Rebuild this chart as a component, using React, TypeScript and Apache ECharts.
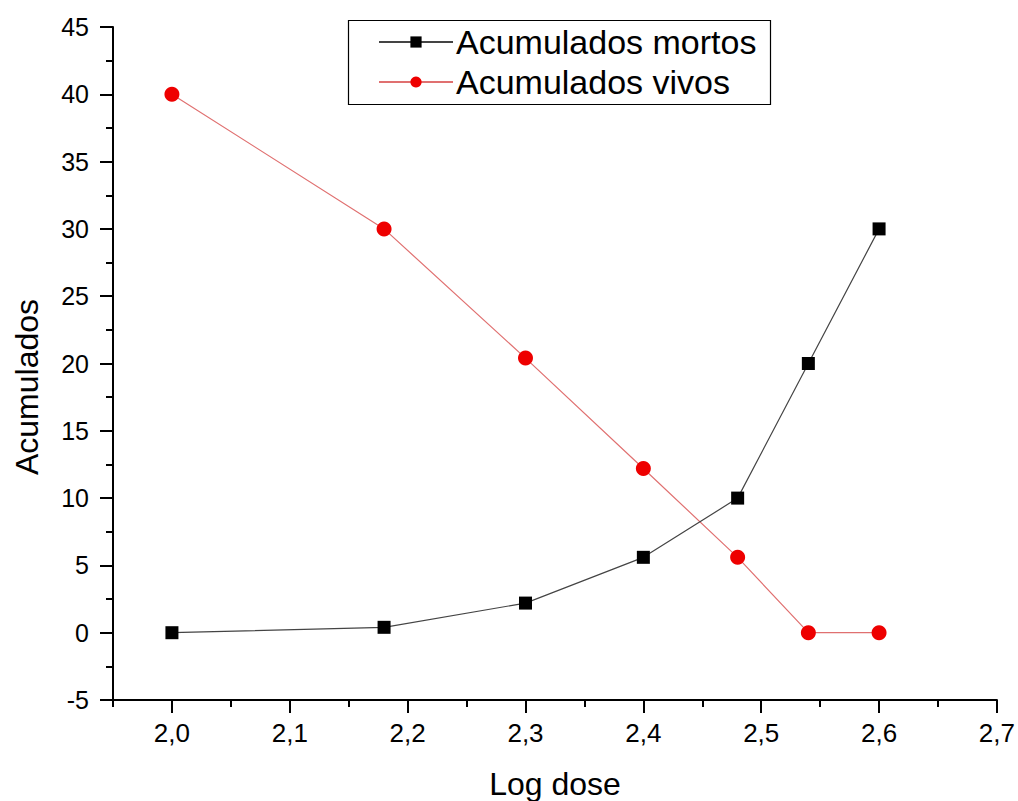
import React, { useEffect, useRef } from "react";
import * as echarts from "echarts";

const logDose = [2.0, 2.18, 2.3, 2.4, 2.48, 2.54, 2.6];
const mortos = [0, 0.4, 2.2, 5.6, 10, 20, 30];
const vivos = [40, 30, 20.4, 12.2, 5.6, 0, 0];
const xMajorTicks = [2.0, 2.1, 2.2, 2.3, 2.4, 2.5, 2.6, 2.7];
const xMinorTicks = [1.95, 2.05, 2.15, 2.25, 2.35, 2.45, 2.55, 2.65];
const seriesNames = ["Acumulados mortos", "Acumulados vivos"];
const xName = "Log dose";
const yName = "Acumulados";

const FONT = "'Liberation Sans', Arial, sans-serif";

export default function App() {
  const ref = useRef<HTMLDivElement>(null);
  useEffect(() => {
    if (!ref.current) return;
    const chart = echarts.init(ref.current, undefined, { renderer: "svg" });
    const axisLine = { show: true, onZero: false, lineStyle: { color: "#000", width: 2 } };
    chart.setOption({
      animation: false,
      backgroundColor: "#fff",
      textStyle: { fontFamily: FONT },
      grid: { left: 113, right: 21, top: 27, bottom: 101, containLabel: false },
      legend: {
        orient: "vertical",
        left: 378,
        top: 25,
        itemWidth: 74,
        itemHeight: 14,
        itemGap: 6,
        padding: 0,
        textStyle: { fontSize: 34, color: "#000", fontFamily: FONT, lineHeight: 34, padding: [0, 0, 0, -2] },
        data: seriesNames,
      },
      xAxis: [
        {
          type: "value",
          position: "bottom",
          min: 1.95,
          max: 2.7,
          axisLine,
          splitLine: { show: false },
          axisTick: { show: true, inside: false, length: 13, lineStyle: { color: "#000", width: 2 }, customValues: xMajorTicks },
          axisLabel: {
            show: true,
            customValues: xMajorTicks,
            margin: 20,
            fontSize: 26,
            color: "#000",
            fontFamily: FONT,
            formatter: (v: number) => v.toFixed(1).replace(".", ","),
          },
        },
        {
          type: "value",
          position: "bottom",
          offset: 0,
          min: 1.95,
          max: 2.7,
          axisLine: { show: false, onZero: false },
          splitLine: { show: false },
          axisTick: { show: true, inside: false, length: 7, lineStyle: { color: "#000", width: 2 }, customValues: xMinorTicks },
          axisLabel: { show: false },
        },
      ],
      yAxis: {
        type: "value",
        min: -5,
        max: 45,
        interval: 5,
        axisLine,
        splitLine: { show: false },
        axisTick: { show: true, inside: false, length: 13, lineStyle: { color: "#000", width: 2 } },
        minorTick: { show: true, splitNumber: 2, length: 7, lineStyle: { color: "#000", width: 2 } },
        minorSplitLine: { show: false },
        axisLabel: { margin: 24, fontSize: 25, color: "#000", fontFamily: FONT },
      },
      graphic: [
        {
          type: "rect",
          shape: { x: 348.5, y: 20.5, width: 422, height: 84 },
          style: { fill: "none", stroke: "#000", lineWidth: 1.2 },
          z: 100,
        },
        {
          type: "text",
          x: 555,
          y: 784,
          style: { text: xName, fill: "#000", font: `32px ${FONT}`, textAlign: "center", textVerticalAlign: "middle" },
        },
        {
          type: "text",
          x: 27,
          y: 387,
          rotation: Math.PI / 2,
          style: { text: yName, fill: "#000", font: `32px ${FONT}`, textAlign: "center", textVerticalAlign: "middle" },
        },
      ],
      series: [
        {
          name: seriesNames[0],
          type: "line",
          xAxisIndex: 0,
          data: logDose.map((x, i) => [x, mortos[i]]),
          symbol: "rect",
          symbolSize: 13,
          itemStyle: { color: "#000" },
          lineStyle: { color: "#444", width: 1.2 },
          z: 3,
        },
        {
          name: seriesNames[1],
          type: "line",
          xAxisIndex: 0,
          data: logDose.map((x, i) => [x, vivos[i]]),
          symbol: "circle",
          symbolSize: 15,
          itemStyle: { color: "#ee0000" },
          lineStyle: { color: "#e07070", width: 1.2 },
          z: 2,
        },
      ],
    });
    return () => chart.dispose();
  }, []);
  return <div ref={ref} style={{ position: "absolute", left: 0, top: 0, width: 1018, height: 801 }} />;
}
